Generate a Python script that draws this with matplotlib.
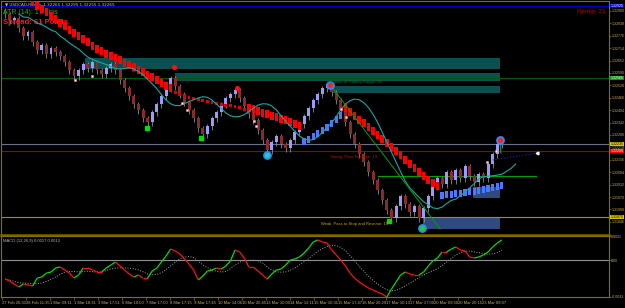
import numpy as np
import pandas as pd
import matplotlib
matplotlib.use('Agg')
import matplotlib.pyplot as plt
import matplotlib.transforms as mtransforms
from matplotlib.collections import LineCollection
from matplotlib.patches import Rectangle

plt.rcParams['font.family'] = ['Liberation Sans', 'DejaVu Sans']

# renko closes, one per brick
closes = [1.32885, 1.32855, 1.32865, 1.32815, 1.32775, 1.32795, 1.32745, 1.32705, 1.32730, 1.32685,
          1.32715, 1.32695, 1.32675, 1.32645, 1.32605, 1.32575, 1.32605, 1.32635, 1.32615, 1.32645,
          1.32605, 1.32585, 1.32615, 1.32635, 1.32605, 1.32555, 1.32515, 1.32475, 1.32435, 1.32405,
          1.32365, 1.32345, 1.32395, 1.32435, 1.32475, 1.32515, 1.32565, 1.32525, 1.32485, 1.32445,
          1.32405, 1.32365, 1.32315, 1.32285, 1.32325, 1.32365, 1.32395, 1.32435, 1.32465, 1.32485,
          1.32505, 1.32465, 1.32425, 1.32385, 1.32355, 1.32305, 1.32255, 1.32205, 1.32245, 1.32275,
          1.32235, 1.32215, 1.32255, 1.32295, 1.32335, 1.32375, 1.32415, 1.32455, 1.32485, 1.32515,
          1.32535, 1.32495, 1.32455, 1.32405, 1.32345, 1.32285, 1.32235, 1.32185, 1.32145, 1.32095,
          1.32055, 1.32005, 1.31955, 1.31905, 1.31865, 1.31925, 1.31975, 1.31935, 1.31895, 1.31925,
          1.31865, 1.31915, 1.31975, 1.32025, 1.32065, 1.32035, 1.32095, 1.32055, 1.32105, 1.32065,
          1.32125, 1.32075, 1.32045, 1.32085, 1.32065, 1.32135, 1.32185, 1.32235, 1.32265]
first_open = 1.32905

# trailing stop bricks (start at bar 5)
stop_start = 5
stop = [1.32945, 1.32925, 1.32905, 1.32890, 1.32875, 1.32855, 1.32840, 1.32820, 1.32805, 1.32785,
        1.32770, 1.32755, 1.32740, 1.32725, 1.32705, 1.32690, 1.32680, 1.32665, 1.32655, 1.32645,
        1.32635, 1.32620, 1.32610, 1.32600, 1.32585, 1.32575, 1.32560, 1.32550, 1.32535, 1.32520,
        1.32505, 1.32495, 1.32485, 1.32475, 1.32470, 1.32460, 1.32455, 1.32450, 1.32445, 1.32440,
        1.32435, 1.32430, 1.32425, 1.32420, 1.32420, 1.32415, 1.32410, 1.32400, 1.32395, 1.32390,
        1.32380, 1.32370, 1.32365, 1.32355, 1.32350, 1.32340, 1.32335, 1.32325, 1.32315, 1.32305,
        1.32265, 1.32275, 1.32290, 1.32305, 1.32320, 1.32335, 1.32355, 1.32375, 1.32395,
        1.32395, 1.32375, 1.32355, 1.32335, 1.32320, 1.32300, 1.32280, 1.32260, 1.32240, 1.32220,
        1.32200, 1.32180, 1.32160, 1.32135, 1.32115, 1.32095, 1.32075, 1.32055, 1.32035, 1.32020,
        1.32005,
        1.31995, 1.32000, 1.32000, 1.32005, 1.32005, 1.32010, 1.32015, 1.32015, 1.32020, 1.32025,
        1.32030, 1.32035, 1.32040, 1.32045]
stop_up = [(65, 73), (95, 108)]
stop_thin = (37, 52)

macd = [-0.00164, -0.00181, -0.00207, -0.00233, -0.00207, -0.00216, -0.00225, -0.00155, -0.00146, -0.00112,
        -0.00103, -0.00068, -0.00059, -0.00085, -0.00112, -0.00155, -0.00129, -0.00068, -0.00068, -0.00085,
        -0.00103, -0.00103, -0.00068, -0.00042, -0.00016, -0.00051, -0.00085, -0.00120, -0.00146, -0.00129,
        -0.00155, -0.00155, -0.00094, -0.00068, -0.00016, 0.00036, 0.00097, 0.00080, 0.00054, 0.00010,
        -0.00033, -0.00085, -0.00172, -0.00138, -0.00094, -0.00085, -0.00068, -0.00077, -0.00051, -0.00007,
        0.00088, 0.00071, 0.00019, -0.00059, -0.00059, -0.00094, -0.00129, -0.00164, -0.00120, -0.00085,
        -0.00077, -0.00042, 0.00001, 0.00010, 0.00028, 0.00062, 0.00106, 0.00158, 0.00175, 0.00158,
        0.00149, 0.00088, 0.00045, 0.00001, -0.00051, -0.00112, -0.00155, -0.00190, -0.00216, -0.00242,
        -0.00259, -0.00277, -0.00294, -0.00320, -0.00251, -0.00190, -0.00129, -0.00103, -0.00120, -0.00129,
        -0.00129, -0.00103, -0.00051, -0.00007, 0.00019, 0.00071, 0.00071, 0.00097, 0.00114, 0.00088,
        0.00080, 0.00028, 0.00019, 0.00028, 0.00045, 0.00071, 0.00114, 0.00149, 0.00175]

# supply / demand zones: (start bar, end bar, low, high)
teal_zones = [(17.4, 107.6, 1.32610, 1.32665), (37.0, 107.6, 1.32550, 1.32590), (71.3, 107.6, 1.32490, 1.32525)]
blue_zones = [(101.7, 107.6, 1.31965, 1.32020), (90.9, 107.6, 1.31810, 1.31865)]

# horizontal price lines: value, line colour, box colour, text colour
hlines = [(1.32925, '#0000c8', '#0000ff', 'white'), (1.32565, '#005a00', '#00a000', 'white'),
          (1.32235, '#6a7088', '#d8c400', 'black'), (1.32200, '#a00000', '#ff0000', 'white'),
          (1.31870, '#a89000', '#d8c400', 'black')]

red_dots = [(36.7, 1.32620), (50.4, 1.32515)]
green_marks = [(30.9, 1.32315), (42.6, 1.32265), (83.5, 1.31850)]
sig_circles = [(57.0, 1.32180, '#20d0a0'), (70.7, 1.32530, '#ff2020'), (90.7, 1.31815, '#20d020'), (107.6, 1.32255, '#ff2020')]
white_marks = [(15.2, 1.32555), (18.9, 1.32575), (38.5, 1.32440), (39.6, 1.32405), (54.1, 1.32350),
               (54.6, 1.32325), (73.0, 1.32410), (74.1, 1.32370), (104.8, 1.32145), (106.7, 1.32200)]

time_labels = ["27 Feb 20:30", "28 Feb 11:35", "1 Mar 09:11", "1 Mar 18:31", "3 Mar 17:51", "6 Mar 10:00",
               "7 Mar 17:00", "8 Mar 17:15", "9 Mar 17:45", "10 Mar 14:06", "10 Mar 20:45", "13 Mar 10:00",
               "14 Mar 12:11", "15 Mar 10:31", "15 Mar 17:47", "16 Mar 20:29", "17 Mar 10:13", "17 Mar 17:00",
               "20 Mar 09:50", "20 Mar 20:15", "23 Mar 09:07"]

gold = '#8a7000'
axis_txt = '#c8b050'

closes = np.array(closes)
opens = np.r_[first_open, closes[:-1]]
xb = np.arange(len(closes))

fig = plt.figure(figsize=(6.25, 3.08), dpi=100, facecolor='black')
ax = fig.add_axes([1 / 625, 1 - 235 / 308, 608 / 625, 234 / 308])
axm = fig.add_axes([1 / 625, 1 - 297 / 308, 608 / 625, 61 / 308], sharex=ax)

for a in (ax, axm):
    a.set_facecolor('black')
    for s in a.spines.values():
        s.set_color(gold)
        s.set_linewidth(0.8)
    a.yaxis.tick_right()
    a.tick_params(axis='y', colors=gold, labelcolor=axis_txt, labelsize=2.6, length=1.2, pad=0.5, width=0.5)
ax.spines['bottom'].set_linewidth(1.8)
ax.spines['bottom'].set_color('#7a6200')

ax.set_xlim(-0.87, 131.3)
ax.set_ylim(1.31780, 1.32950)
ticks = 1.329 - 0.00062 * np.arange(18)
ax.set_yticks(ticks)
ax.set_yticklabels(['%.5f' % t for t in ticks])
ax.tick_params(axis='x', bottom=False, labelbottom=False)

# zones
for x0, x1, lo, hi in teal_zones:
    ax.add_patch(Rectangle((x0, lo), x1 - x0, hi - lo, fc='#0b5050', ec='none', zorder=0.5))
for x0, x1, lo, hi in blue_zones:
    ax.add_patch(Rectangle((x0, lo), x1 - x0, hi - lo, fc='#2e4a80', ec='none', zorder=0.5))

# horizontal lines + price boxes
trans = mtransforms.blended_transform_factory(ax.transAxes, ax.transData)
for val, lc, bc, tc in hlines:
    ax.axhline(val, color=lc, lw=0.8, zorder=0.8)
    ax.text(1.003, val, '%.5f' % val, transform=trans, fontsize=2.6, color=tc, va='center', ha='left',
            bbox=dict(boxstyle='square,pad=0.12', fc=bc, ec='none'), zorder=10, clip_on=False)

ax.plot([81.1, 115.4], [1.32075, 1.32075], color='#00a000', lw=0.8, zorder=1)

# candles
bull = closes > opens
lo = np.minimum(opens, closes) - 0.0002
hi = np.maximum(opens, closes) + 0.0001
ax.vlines(xb, lo, hi, color='#8a8a8a', lw=0.6, zorder=2)
ax.bar(xb[bull], (closes - opens)[bull], bottom=opens[bull], width=0.65, color='#9a9aff', zorder=3)
ax.bar(xb[~bull], (closes - opens)[~bull], bottom=opens[~bull], width=0.65, color='#8a2a2a', zorder=3)

# trailing stop bricks
stop = np.array(stop)
sx = np.arange(stop_start, stop_start + len(stop))
up = np.zeros(len(stop), bool)
for a0, a1 in stop_up:
    up[(sx >= a0) & (sx <= a1)] = True
thin = (sx >= stop_thin[0]) & (sx <= stop_thin[1])
dn = ~up & ~thin
ax.bar(sx[dn], 0.00038, bottom=stop[dn], width=0.75, color='#ff0000', zorder=4)
ax.bar(sx[thin], 0.00016, bottom=stop[thin], width=0.6, color='#e00000', zorder=4)
ax.bar(sx[up], -0.00035, bottom=stop[up], width=0.7, color='#4a78ff', zorder=4)

# moving average, shifted forward
ma = pd.Series(closes).rolling(9, min_periods=1).mean().values
ax.plot(xb + 3, ma, color='#14a8a8', lw=0.8, zorder=5)

# signal lines
ax.plot([70.7, 94.6], [1.32530, 1.31810], color='#00a000', lw=0.7, zorder=5)
ax.plot([107.6, 107.6], [1.32255, 1.32195], color='#00a000', lw=0.8, zorder=5)
ax.plot([106, 115.7], [1.32155, 1.32190], color='#2020c0', lw=0.8, ls=':', zorder=5)
ax.plot([115.7], [1.32190], marker='<', ms=2, color='white', zorder=6)

for x, y in red_dots:
    ax.plot(x, y, 'o', ms=2.6, color='#ff1010', zorder=7)
for x, y in green_marks:
    ax.plot(x, y, 's', ms=2.2, color='#00e000', zorder=7)
for x, y in white_marks:
    ax.plot(x, y, 's', ms=1.6, mfc='white', mec='#ff8080', mew=0.4, zorder=7)
for x, y, c in sig_circles:
    ax.plot(x, y, 'o', ms=5, mfc=c, mec='#2a8cff', mew=1.3, zorder=8)

# chart texts
ax.text(0.006, 0.993, '\u25bc USDCAD,Renko  1.32265 1.32295 1.32255 1.32265', transform=ax.transAxes,
        fontsize=3, color='#c0c0c0', va='top', family=['DejaVu Sans'])
ax.text(0.004, 0.965, 'ATR (14): 17 pips', transform=ax.transAxes, fontsize=5, color='#00c000', va='top')
ax.text(0.003, 0.925, 'Spread: 61 Points.', transform=ax.transAxes, fontsize=5.6, color='#ff1818',
        va='top', fontweight='bold')
ax.text(0.995, 0.965, 'Renko  21', transform=ax.transAxes, fontsize=4.5, color='#c00000', va='top', ha='right')
ax.text(70.0, 1.32545, 'Location of Trading Range: 56', fontsize=3, color='#008a00', va='center', zorder=9)
ax.text(70.7, 1.32170, 'Strong, Price Reverse: 19', fontsize=3, color='#c01010', va='center', zorder=9)
ax.text(68.6, 1.31835, 'Weak, Pass to Stop and Reverse: 15', fontsize=3, color='#c8a800', va='center', zorder=9)

# MACD panel
macd = np.array(macd)
signal = pd.Series(macd).rolling(7, min_periods=1).mean().values
axm.set_ylim(-0.0032, 0.0021)
axm.set_yticks([0.0021, 0.0, -0.0032])
axm.set_yticklabels(['0.0021', '0.00', '-0.0032'])
axm.axhline(0, color='#909090', lw=0.8)
pts = np.column_stack([xb, macd])
segs = np.stack([pts[:-1], pts[1:]], axis=1)
cols = ['#00e000' if b > a else '#ff1010' for a, b in zip(macd[:-1], macd[1:])]
axm.add_collection(LineCollection(segs, colors=cols, linewidths=0.9, zorder=3))
axm.plot(xb, signal, color='#a0a0a0', lw=0.7, ls=':', zorder=2)
axm.text(0.004, 0.95, 'MACD (12,26,9) 0.0017 0.0013', transform=axm.transAxes, fontsize=3,
         color='#b0b0b0', va='top')

tpos = -0.65 + 5.217 * np.arange(len(time_labels))
axm.set_xticks(tpos)
axm.set_xticklabels(time_labels, ha='left')
axm.tick_params(axis='x', colors=gold, labelcolor=axis_txt, labelsize=3.0, length=2, pad=1, width=0.5)

fig.savefig('out.png', dpi=100, facecolor='black')
